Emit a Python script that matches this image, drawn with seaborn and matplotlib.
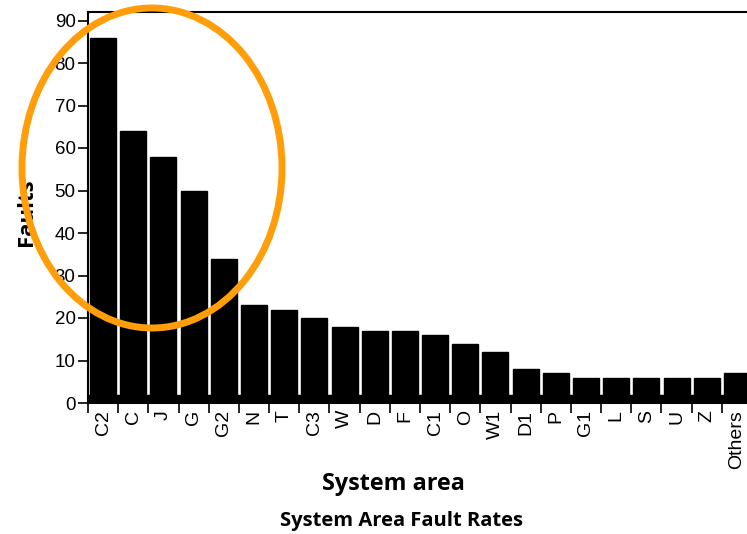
import matplotlib
matplotlib.use("Agg")
import matplotlib.pyplot as plt
from matplotlib.patches import Ellipse
from matplotlib.ticker import FixedLocator
import seaborn as sns
import pandas as pd
import numpy as np

# Fault counts per system area
areas = ["C2", "C", "J", "G", "G2", "N", "T", "C3", "W", "D", "F",
         "C1", "O", "W1", "D1", "P", "G1", "L", "S", "U", "Z", "Others"]
faults = [86, 64, 58, 50, 34, 23, 22, 20, 18, 17, 17,
          16, 14, 12, 8, 7, 6, 6, 6, 6, 6, 7]
y_ticks = [0, 10, 20, 30, 40, 50, 60, 70, 80, 90]

sns.set_style("ticks")
plt.rcParams["font.family"] = ["Liberation Sans", "DejaVu Sans"]
plt.rcParams["text.color"] = "black"
plt.rcParams["xtick.color"] = "black"
plt.rcParams["ytick.color"] = "black"
title_font = ["Open Sans", "DejaVu Sans"]

W, H = 747, 534
fig = plt.figure(figsize=(W / 100, H / 100), dpi=100)
ax = fig.add_axes([88 / W, (H - 403) / H, (752 - 88) / W, (403 - 12) / H])

df = pd.DataFrame({"area": areas, "faults": faults})
sns.barplot(data=df, x="area", y="faults", color="black", saturation=1,
            width=0.86, ax=ax, zorder=3)
for p in ax.patches:
    p.set_edgecolor("black")

# floor slab under the bars
ax.axhspan(0, 1.9, color="black", zorder=2)

ax.set_xlim(-0.5, len(areas) - 0.5)
ax.set_ylim(0, 92)
ax.set_yticks(y_ticks)
ax.tick_params(axis="y", direction="out", length=7, width=1.2,
               labelsize=13.5, pad=2, colors="black")

ax.tick_params(axis="x", which="major", length=0, labelsize=14,
               pad=5, labelrotation=90, colors="black")
ax.xaxis.set_minor_locator(FixedLocator(np.arange(-0.5, len(areas), 1.0)))
ax.tick_params(axis="x", which="minor", direction="out", length=7,
               width=1.2, colors="black")
for lab in ax.get_xticklabels():
    lab.set_verticalalignment("top")

for side in ["left", "bottom", "top"]:
    ax.spines[side].set_visible(True)
    ax.spines[side].set_color("black")
    ax.spines[side].set_linewidth(1.5)
ax.spines["right"].set_visible(False)

ax.set_xlabel("")
ax.set_ylabel("")
fig.text(393 / W, 1 - 484 / H, "System area", ha="center", va="center",
         fontsize=16.8, fontweight="bold", family=title_font, color="black")
fig.text(401 / W, 1 - 521 / H, "System Area Fault Rates", ha="center",
         va="center", fontsize=14.5, fontweight="bold", family=title_font,
         color="black")
fig.text(27 / W, 1 - 212 / H, "Faults", ha="center", va="center",
         rotation=90, fontsize=16, fontweight="bold", family=title_font,
         color="black")

# highlight ring around the leading areas
ring = Ellipse((152 / W, 1 - 168 / H), 260 / W, 320 / H,
               transform=fig.transFigure, fill=False,
               edgecolor="#FF9E0A", linewidth=5, zorder=10)
fig.patches.append(ring)

fig.savefig("out.png", dpi=100)
